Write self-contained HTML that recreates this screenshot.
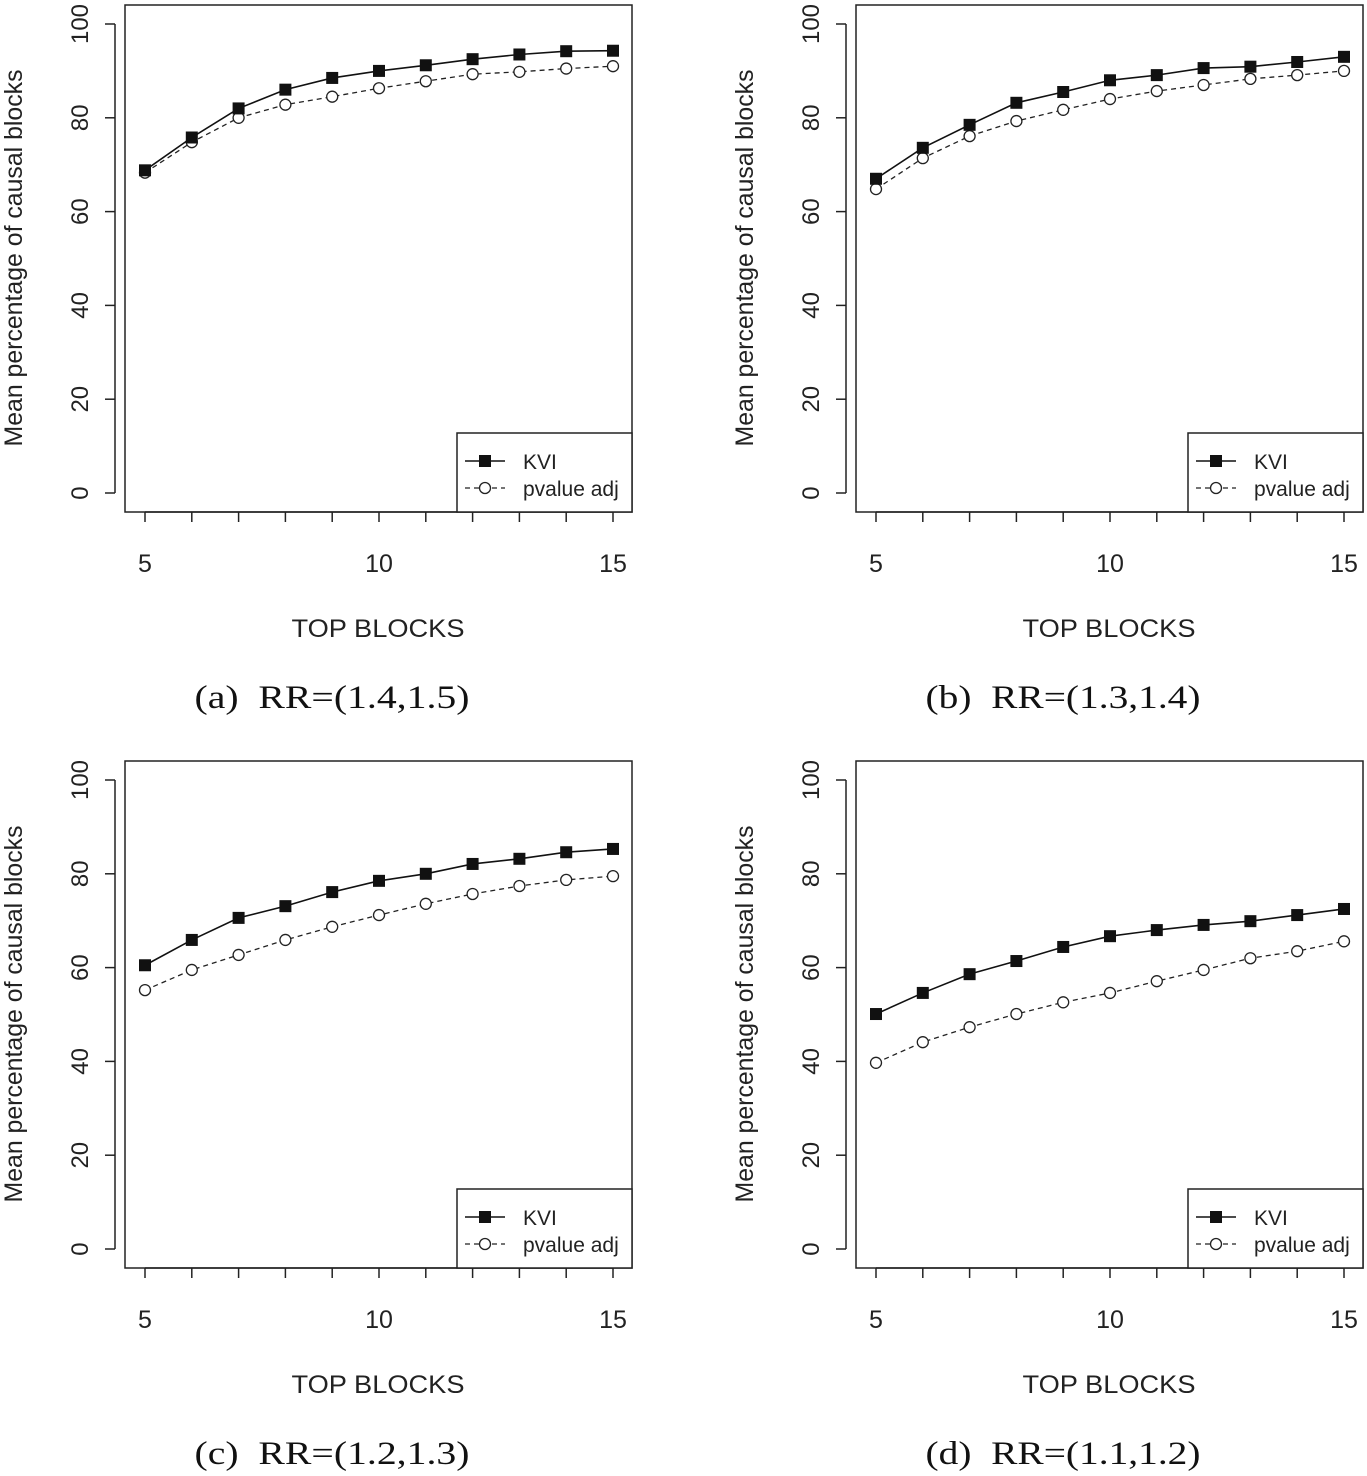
<!DOCTYPE html>
<html><head><meta charset="utf-8">
<style>
html,body{margin:0;padding:0;background:#fff;}
svg{display:block;}
text{font-family:"Liberation Sans",sans-serif;fill:#222;}
.cap{font-family:"Liberation Serif",serif;font-size:33px;fill:#111;}
</style></head>
<body>
<svg id="chart" width="1367" height="1476" viewBox="0 0 1367 1476" xmlns="http://www.w3.org/2000/svg"></svg>
<script>
const categories = [5,6,7,8,9,10,11,12,13,14,15];
const kviA = [68.8,75.8,82,86,88.5,90,91.2,92.5,93.5,94.2,94.3];
const pvalA = [68.3,74.8,80,82.8,84.5,86.3,87.8,89.3,89.8,90.5,91];
const kviB = [67,73.6,78.5,83.2,85.5,88,89.1,90.6,90.9,91.9,93];
const pvalB = [64.8,71.4,76.1,79.3,81.7,84,85.7,87,88.3,89.1,90];
const kviC = [60.5,65.9,70.6,73.1,76.1,78.5,80,82.1,83.2,84.6,85.3];
const pvalC = [55.2,59.5,62.7,65.9,68.7,71.2,73.6,75.7,77.4,78.7,79.5];
const kviD = [50.1,54.6,58.6,61.4,64.4,66.7,68,69.1,69.9,71.2,72.5];
const pvalD = [39.7,44.1,47.3,50.1,52.6,54.6,57.1,59.5,62,63.5,65.6];
const yTicks = [0,20,40,60,80,100];
const xTicks = [5,10,15];
const captions = ["(a)\u00a0\u00a0RR=(1.4,1.5)","(b)\u00a0\u00a0RR=(1.3,1.4)","(c)\u00a0\u00a0RR=(1.2,1.3)","(d)\u00a0\u00a0RR=(1.1,1.2)"];
const seriesNames = ["KVI","pvalue adj"];

const NS="http://www.w3.org/2000/svg";
const svg=document.getElementById('chart');
function mk(tag,attrs,parent){const e=document.createElementNS(NS,tag);for(const k in attrs)e.setAttribute(k,attrs[k]);(parent||svg).appendChild(e);return e;}

const panels=[
 {ox:0,oy:0,k:kviA,p:pvalA,c:captions[0]},
 {ox:731,oy:0,k:kviB,p:pvalB,c:captions[1]},
 {ox:0,oy:756,k:kviC,p:pvalC,c:captions[2]},
 {ox:731,oy:756,k:kviD,p:pvalD,c:captions[3]}
];
const letters=['a','b','c','d'];
panels.forEach((P,i)=>{
 const g=mk('g',{transform:`translate(${P.ox},${P.oy})`});
 
 
 const xs=v=>145+(v-5)*(468/10);
 const ys=v=>493-v*4.69;
 const box=mk('rect',{x:125,y:5,width:507,height:507,fill:'none',stroke:'#222','stroke-width':1.5},g);
 
 
 mk('line',{x1:115,y1:ys(0),x2:115,y2:ys(100),stroke:'#222','stroke-width':1.5},g);
 yTicks.forEach(t=>{
  mk('line',{x1:105,y1:ys(t),x2:115,y2:ys(t),stroke:'#222','stroke-width':1.5},g);
  const tx=mk('text',{x:88,y:ys(t),'font-size':24,'text-anchor':'middle',transform:`rotate(-90 88 ${ys(t)})`},g);
  tx.textContent=t;
  
  
 });
 const yt=mk('text',{x:22,y:258,'font-size':25,'text-anchor':'middle',textLength:377,lengthAdjust:'spacingAndGlyphs',transform:'rotate(-90 22 258)'},g);
 yt.textContent='Mean percentage of causal blocks';
 
 
 mk('line',{x1:xs(5),y1:512,x2:xs(15),y2:512,stroke:'#222','stroke-width':1.5},g);
 categories.forEach(c=>mk('line',{x1:xs(c),y1:512,x2:xs(c),y2:522,stroke:'#222','stroke-width':1.5},g));
 xTicks.forEach(t=>{
  const tx=mk('text',{x:xs(t),y:572,'font-size':25,'text-anchor':'middle'},g);
  tx.textContent=t;
  
  
 });
 const xt=mk('text',{x:378,y:637,'font-size':25,'text-anchor':'middle',textLength:173,lengthAdjust:'spacingAndGlyphs'},g);
 xt.textContent='TOP BLOCKS';
 
 
 const pl=mk('polyline',{points:categories.map((c,j)=>xs(c)+','+ys(P.p[j])).join(' '),fill:'none',stroke:'#222','stroke-width':1.3,'stroke-dasharray':'5,4'},g);
 
 
 categories.forEach((c,j)=>{
  const m=mk('circle',{cx:xs(c),cy:ys(P.p[j]),r:5.5,fill:'#fff',stroke:'#222','stroke-width':1.3},g);
  
  
 });
 const kl=mk('polyline',{points:categories.map((c,j)=>xs(c)+','+ys(P.k[j])).join(' '),fill:'none',stroke:'#111','stroke-width':1.6},g);
 
 
 categories.forEach((c,j)=>{
  const m=mk('rect',{x:xs(c)-6,y:ys(P.k[j])-6,width:12,height:12,fill:'#111'},g);
  
  
 });
 const lg=mk('g',{},g);
 
 
 mk('rect',{x:457,y:433,width:175,height:79,fill:'#fff',stroke:'#222','stroke-width':1.5},lg);
 mk('line',{x1:465,y1:461,x2:505,y2:461,stroke:'#111','stroke-width':1.6},lg);
 mk('rect',{x:479,y:455,width:12,height:12,fill:'#111'},lg);
 mk('line',{x1:465,y1:488,x2:505,y2:488,stroke:'#222','stroke-width':1.3,'stroke-dasharray':'5,4'},lg);
 mk('circle',{cx:485,cy:488,r:5.5,fill:'#fff',stroke:'#222','stroke-width':1.3},lg);
 const l1=mk('text',{x:523,y:469,'font-size':21},lg); l1.textContent=seriesNames[0];
 
 
 const l2=mk('text',{x:523,y:496,'font-size':21},lg); l2.textContent=seriesNames[1];
 
 
 const cp=mk('text',{x:332,y:708,'text-anchor':'middle',class:'cap',textLength:275,lengthAdjust:'spacingAndGlyphs'},g);
 cp.textContent=P.c;
 
 
});
</script>
</body></html>
